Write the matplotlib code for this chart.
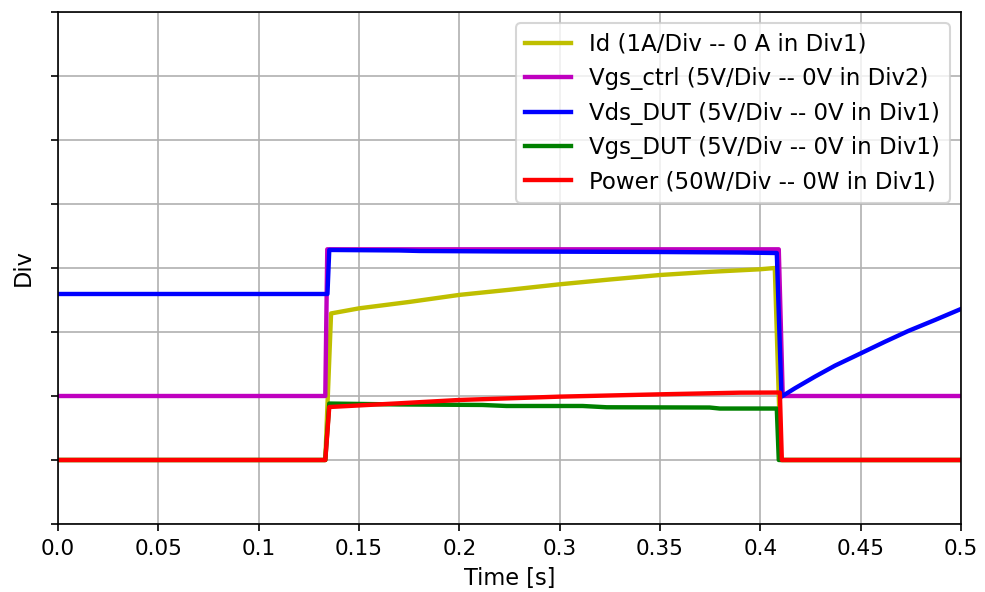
import numpy as np
import matplotlib
matplotlib.use("Agg")
import matplotlib.pyplot as plt

# --- data (physical units) ---
t_id = [0.0, 0.1480, 0.1512, 0.1668, 0.1946, 0.2223, 0.2500, 0.2777, 0.3054, 0.3331,
        0.3609, 0.3886, 0.3969, 0.4002, 0.5]
id_a = [0.0, 0.0, 2.29, 2.37, 2.47, 2.58, 2.66, 2.745, 2.82, 2.89,
        2.94, 2.98, 3.00, 0.0, 0.0]

t_ctrl = [0.0, 0.1480, 0.1491, 0.3991, 0.4013, 0.5]
vgs_ctrl = [0.0, 0.0, 11.46, 11.46, 0.0, 0.0]

t_vds = [0.0, 0.1492, 0.1502, 0.1890, 0.2001, 0.2483, 0.3331, 0.3775, 0.3980, 0.4006,
         0.4080, 0.4191, 0.4302, 0.4446, 0.4579, 0.4708, 0.4856, 0.5]
vds = [12.97, 12.97, 16.41, 16.37, 16.33, 16.29, 16.25, 16.21, 16.17, 4.95,
       5.60, 6.51, 7.37, 8.34, 9.24, 10.08, 10.94, 11.80]

t_vgs = [0.0, 0.1480, 0.1502, 0.1890, 0.2350, 0.2483, 0.2905, 0.3038, 0.3609, 0.3664,
         0.3980, 0.3991, 0.5]
vgs_dut = [0.0, 0.0, 4.41, 4.34, 4.30, 4.22, 4.22, 4.12, 4.10, 4.02, 4.02, 0.0, 0.0]

t_pw = [0.0, 0.1480, 0.1502, 0.1890, 0.2223, 0.2777, 0.3331, 0.3775, 0.3980, 0.3997, 0.4008, 0.5]
power = [0.0, 0.0, 41.4, 44.3, 46.9, 49.5, 51.3, 52.6, 52.7, 52.7, 0.0, 0.0]

xtick_labels = ["0.0", "0.05", "0.1", "0.15", "0.2", "0.3", "0.35", "0.4", "0.45", "0.5"]


def to_div(vals, per_div, zero_div):
    # physical value -> scope divisions
    return np.asarray(vals) / per_div + zero_div


plt.rcParams["font.size"] = 10.8
plt.rcParams["xtick.labelsize"] = 10.4

fig = plt.figure(figsize=(985 / 150, 592 / 150), dpi=150)
ax = fig.add_axes([58 / 985, 1 - 524 / 592, (961 - 58) / 985, (524 - 12) / 592])

lw = 2.1
ax.plot(t_id, to_div(id_a, 1, 1), color="y", lw=lw, label="Id (1A/Div -- 0 A in Div1)")
ax.plot(t_ctrl, to_div(vgs_ctrl, 5, 2), color="m", lw=lw, label="Vgs_ctrl (5V/Div -- 0V in Div2)")
ax.plot(t_vds, to_div(vds, 5, 1), color="b", lw=lw, label="Vds_DUT (5V/Div -- 0V in Div1)")
ax.plot(t_vgs, to_div(vgs_dut, 5, 1), color="g", lw=lw, label="Vgs_DUT (5V/Div -- 0V in Div1)")
ax.plot(t_pw, to_div(power, 50, 1), color="r", lw=lw, label="Power (50W/Div -- 0W in Div1)")

ax.set_xlim(0, 0.5)
ax.set_ylim(0, 8)
ax.set_xticks(np.linspace(0, 0.5, len(xtick_labels)))
ax.set_xticklabels(xtick_labels)
ax.set_yticks(range(9))
ax.set_yticklabels([])
ax.grid(True)
ax.set_xlabel("Time [s]")
ax.set_ylabel("Div")
ax.legend(loc="upper right", fontsize=11)

fig.savefig("out.png", dpi=150)
